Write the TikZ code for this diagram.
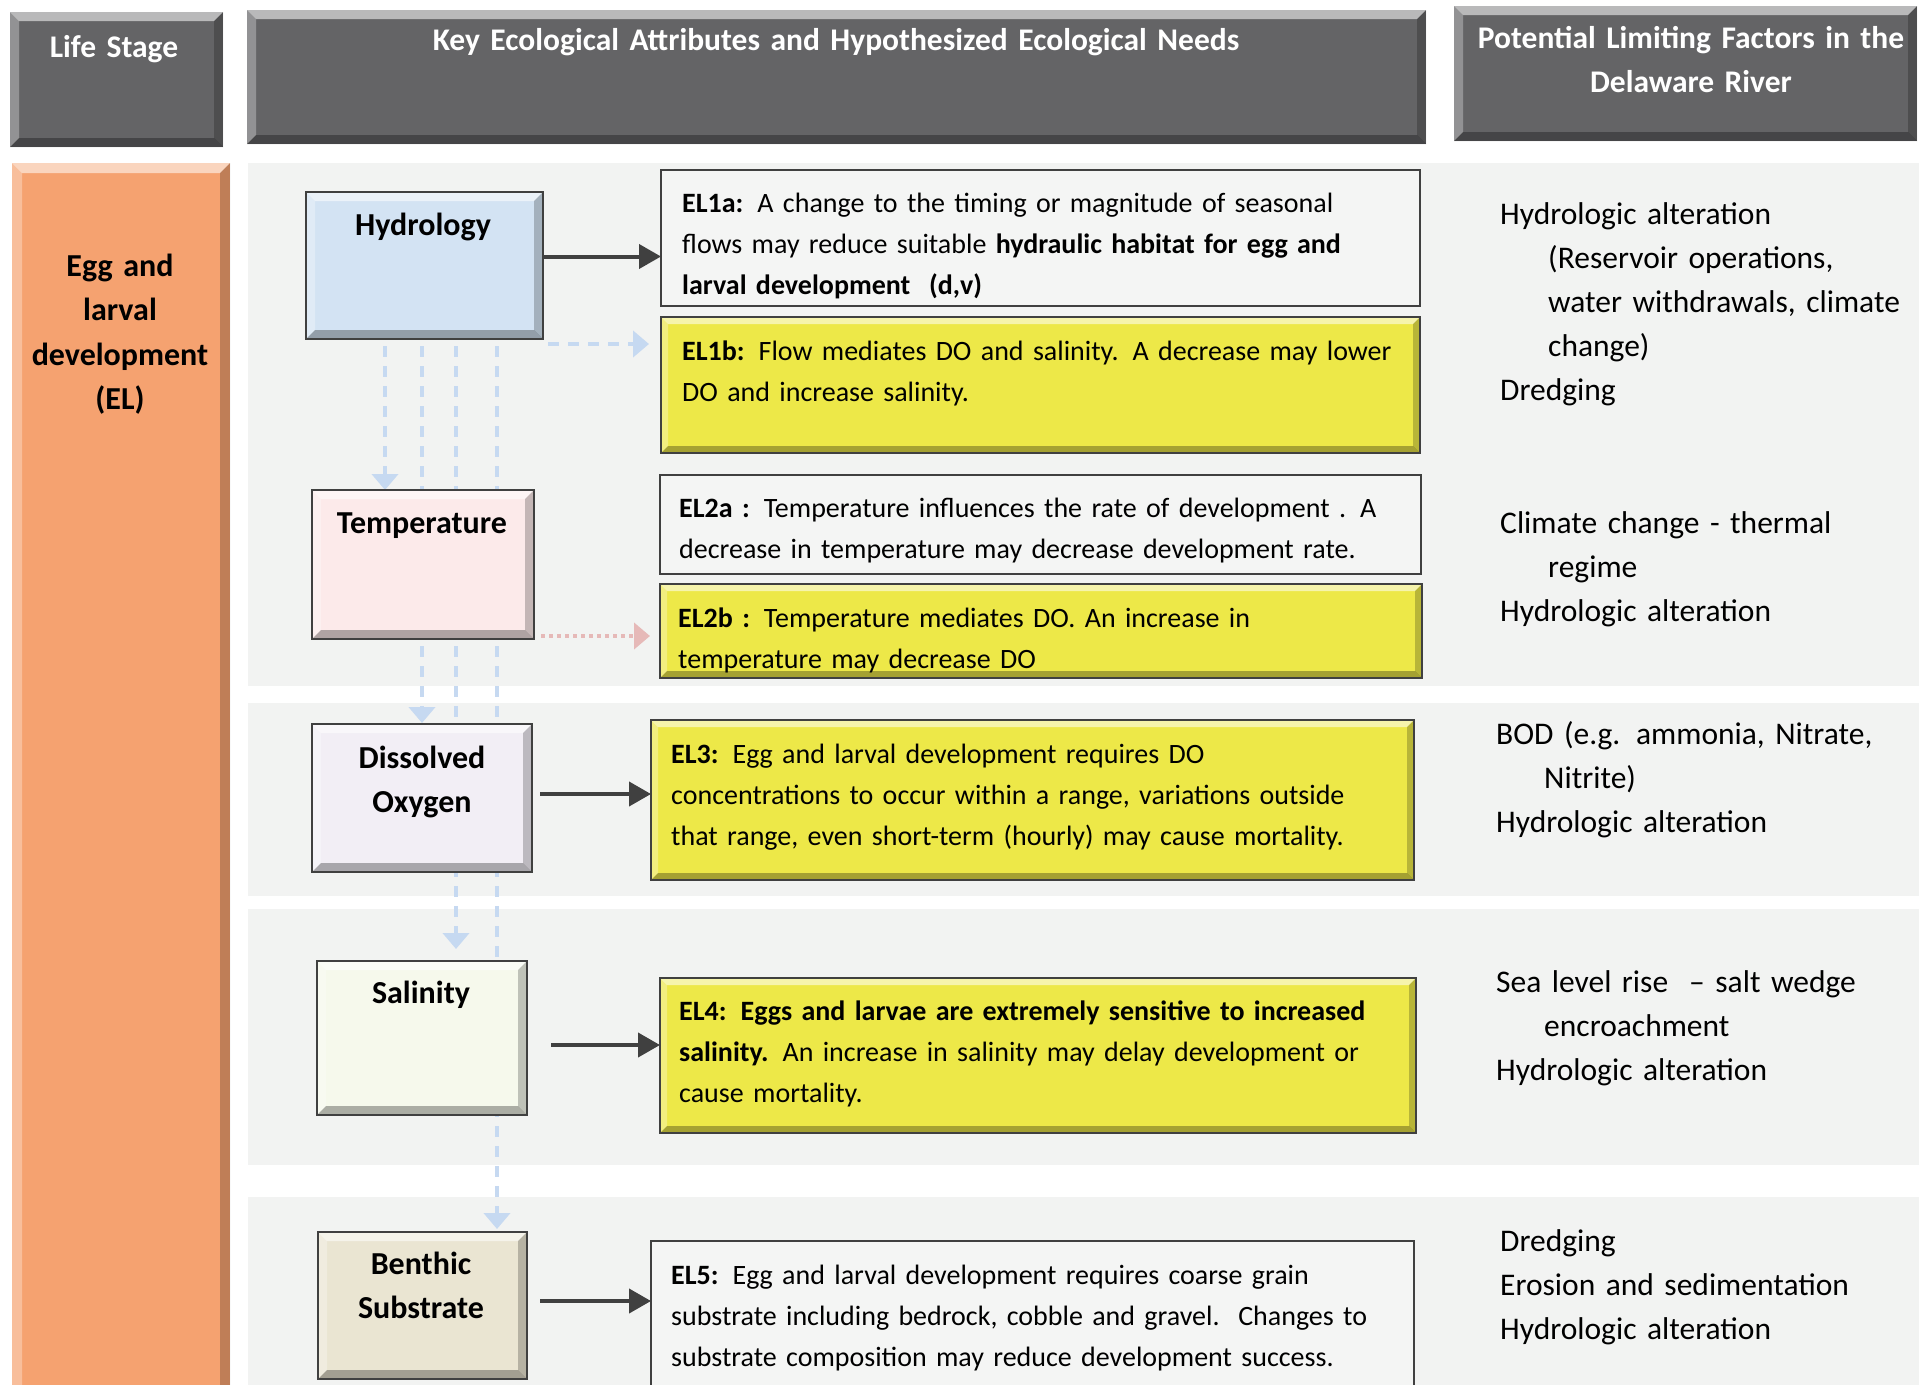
\documentclass[tikz,border=0pt]{standalone}
\usepackage{fontspec}
\setmainfont{Carlito}
\usetikzlibrary{arrows.meta}
\definecolor{hdrc}{RGB}{100,100,102}
\definecolor{orangec}{RGB}{245,162,112}
\definecolor{bandc}{RGB}{242,243,242}
\definecolor{hydc}{RGB}{211,227,243}
\definecolor{tempc}{RGB}{252,234,234}
\definecolor{doc}{RGB}{242,238,245}
\definecolor{salc}{RGB}{246,249,236}
\definecolor{benc}{RGB}{234,229,210}
\definecolor{yelc}{RGB}{237,232,72}
\definecolor{plainc}{RGB}{244,245,244}
\definecolor{bordc}{RGB}{64,64,64}
\definecolor{arrc}{RGB}{64,64,64}
\definecolor{bluec}{RGB}{198,217,241}
\definecolor{pinkc}{RGB}{230,185,184}
\begin{document}
\begin{tikzpicture}[x=1pt,y=-1pt,
  bevel/.style={path picture={
    \fill[white,opacity=0.55] (path picture bounding box.north west) -- (path picture bounding box.north east) -- ([xshift=-#1,yshift=-#1]path picture bounding box.north east) -- ([xshift=#1,yshift=-#1]path picture bounding box.north west) -- cycle;
    \fill[white,opacity=0.3] (path picture bounding box.north west) -- ([xshift=#1,yshift=-#1]path picture bounding box.north west) -- ([xshift=#1,yshift=#1]path picture bounding box.south west) -- (path picture bounding box.south west) -- cycle;
    \fill[black,opacity=0.3] (path picture bounding box.south west) -- (path picture bounding box.south east) -- ([xshift=-#1,yshift=#1]path picture bounding box.south east) -- ([xshift=#1,yshift=#1]path picture bounding box.south west) -- cycle;
    \fill[black,opacity=0.22] (path picture bounding box.north east) -- (path picture bounding box.south east) -- ([xshift=-#1,yshift=#1]path picture bounding box.south east) -- ([xshift=-#1,yshift=-#1]path picture bounding box.north east) -- cycle;
  }},
  bevel/.default=9pt,
  box/.style={draw=bordc, line width=2.5pt, inner sep=0pt, outer sep=0pt, anchor=north west},
  hdrbox/.style={fill=hdrc, inner sep=0pt, outer sep=0pt, anchor=north west, bevel},
  mtext/.style={font=\fontsize{28pt}{41pt}\selectfont, text width=745pt, align=left, inner sep=0pt, anchor=base west},
  rtext/.style={font=\fontsize{31.5pt}{44pt}\selectfont, text width=420pt, align=left, inner sep=0pt, anchor=base west},
  ltext/.style={font=\fontsize{32pt}{44pt}\selectfont\bfseries, text width=230pt, align=center, inner sep=0pt, anchor=base},
  htext/.style={font=\fontsize{31.5pt}{44pt}\selectfont\bfseries, text=white, align=center, inner sep=0pt, anchor=base},
  solidarr/.style={draw=arrc, line width=4pt, -{Triangle[length=22pt,width=24pt]}},
  bluearr/.style={draw=bluec, line width=4pt, dash pattern=on 11pt off 9pt, -{Triangle[length=16pt,width=26pt]}},
  pinkarr/.style={draw=pinkc, line width=4pt, dash pattern=on 4pt off 4pt, -{Triangle[length=16pt,width=26pt]}}
]
\useasboundingbox (0,0) rectangle (1919,1384);
\fill[white] (0,0) rectangle (1919,1384);

% bands
\fill[bandc] (248,163) rectangle (1919,686);
\fill[bandc] (248,703) rectangle (1919,896);
\fill[bandc] (248,909) rectangle (1919,1165);
\fill[bandc] (248,1197) rectangle (1919,1400);

% header boxes
\node[hdrbox, minimum width=213pt, minimum height=135pt] (lifehdr) at (10,12) {};
\node[hdrbox, minimum width=1179pt, minimum height=134pt] (keyhdr) at (247,10) {};
\node[hdrbox, minimum width=463pt, minimum height=135pt] (pothdr) at (1454,6) {};
\node[htext, text width=200pt] (lifet) at (114,57) {Life Stage};
\node[htext, text width=1100pt] (keyt) at (836,50) {Key Ecological Attributes and Hypothesized Ecological Needs};
\node[htext, text width=460pt] (pott) at (1691,48) {Potential Limiting Factors in the\\Delaware River};

% life stage column
\node[fill=orangec, inner sep=0pt, outer sep=0pt, anchor=north west, minimum width=218pt, minimum height=1237pt, bevel=10pt] (egg) at (12,163) {};
\node[ltext, font=\fontsize{32pt}{44.5pt}\selectfont\bfseries] (eggt) at (120,276) {Egg and\\larval\\development\\(EL)};

% coordinates for vertical connectors
\coordinate (v1) at (385,0);
\coordinate (v2) at (422,0);
\coordinate (v3) at (456,0);
\coordinate (v4) at (497,0);

\path (306,192) coordinate (phyd) (312,490) coordinate (ptemp) (312,724) coordinate (pdo)
      (317,961) coordinate (psal) (318,1232) coordinate (pben);

% invisible placeholders to route the vertical connectors
\node[inner sep=0pt, outer sep=0pt, anchor=north west, minimum width=237pt, minimum height=147pt] (hyd) at (phyd) {};
\node[inner sep=0pt, outer sep=0pt, anchor=north west, minimum width=222pt, minimum height=149pt] (temp) at (ptemp) {};
\node[inner sep=0pt, outer sep=0pt, anchor=north west, minimum width=220pt, minimum height=148pt] (do) at (pdo) {};
\node[inner sep=0pt, outer sep=0pt, anchor=north west, minimum width=210pt, minimum height=154pt] (sal) at (psal) {};
\node[inner sep=0pt, outer sep=0pt, anchor=north west, minimum width=209pt, minimum height=147pt] (ben) at (pben) {};

\draw[bluearr, shorten <=7pt] (hyd.south -| v1) -- (temp.north -| v1);
\draw[bluearr, shorten <=7pt, shorten >=1pt] (hyd.south -| v2) -- (do.north -| v2);
\draw[bluearr, shorten <=7pt, shorten >=12pt] (hyd.south -| v3) -- (sal.north -| v3);
\draw[bluearr, shorten <=7pt, shorten >=3pt] (hyd.south -| v4) -- (ben.north -| v4);

% visible attribute boxes
\node[box, fill=hydc, bevel, minimum width=237pt, minimum height=147pt] (hydb) at (phyd) {};
\node[box, fill=tempc, bevel, minimum width=222pt, minimum height=149pt] (tempb) at (ptemp) {};
\node[box, fill=doc, bevel, minimum width=220pt, minimum height=148pt] (dob) at (pdo) {};
\node[box, fill=salc, bevel, minimum width=210pt, minimum height=154pt] (salb) at (psal) {};
\node[box, fill=benc, bevel, minimum width=209pt, minimum height=147pt] (benb) at (pben) {};

\node[ltext] (hydt) at (423,235) {Hydrology};
\node[ltext] (tempt) at (422,533) {Temperature};
\node[ltext] (dot) at (422,768) {Dissolved\\Oxygen};
\node[ltext] (salt) at (421,1003) {Salinity};
\node[ltext] (bent) at (421,1274) {Benthic\\Substrate};

% ecological need boxes
\node[box, fill=plainc, minimum width=759pt, minimum height=136pt] (el1a) at (661,170) {};
\node[box, fill=yelc, bevel=7pt, minimum width=759pt, minimum height=136pt] (el1b) at (661,317) {};
\node[box, fill=plainc, minimum width=761pt, minimum height=99pt] (el2a) at (660,475) {};
\node[box, fill=yelc, bevel=7pt, minimum width=762pt, minimum height=94pt] (el2b) at (660,584) {};
\node[box, fill=yelc, bevel=7pt, minimum width=763pt, minimum height=160pt] (el3) at (651,720) {};
\node[box, fill=yelc, bevel=7pt, minimum width=756pt, minimum height=155pt] (el4) at (660,978) {};
\node[box, fill=plainc, minimum width=763pt, minimum height=180pt] (el5) at (651,1241) {};

\node[mtext] (t1a) at (682,212) {\textbf{EL1a:} A change to the timing or magnitude of seasonal\\flows may reduce suitable \textbf{hydraulic habitat for egg and}\\\textbf{larval development\ \ (d,v)}};
\node[mtext] (t1b) at (682,360) {\textbf{EL1b:} Flow mediates DO and salinity. A decrease may lower\\DO and increase salinity.};
\node[mtext] (t2a) at (679,517) {\textbf{EL2a :} Temperature influences the rate of development . A\\decrease in temperature may decrease development rate.};
\node[mtext] (t2b) at (678,627) {\textbf{EL2b :} Temperature mediates DO. An increase in\\temperature may decrease DO};
\node[mtext] (t3) at (671,763) {\textbf{EL3:} Egg and larval development requires DO\\concentrations to occur within a range, variations outside\\that range, even short-term (hourly) may cause mortality.};
\node[mtext] (t4) at (679,1020) {\textbf{EL4: Eggs and larvae are extremely sensitive to increased}\\\textbf{salinity.} An increase in salinity may delay development or\\cause mortality.};
\node[mtext] (t5) at (671,1284) {\textbf{EL5:} Egg and larval development requires coarse grain\\substrate including bedrock, cobble and gravel.\ \ Changes to\\substrate composition may reduce development success.};

% connectors
\path ([yshift=9pt]hydb.east) coordinate (a1);
\draw[solidarr] (a1) -- (a1 -| el1a.west);
\path ([xshift=5pt,yshift=-5pt]hydb.south east) coordinate (a2);
\draw[bluearr, shorten >=12pt] (a2) -- (a2 -| el1b.west);
\path ([yshift=3pt]tempb.south east) coordinate (a3);
\draw[pinkarr, shorten <=7pt, shorten >=10pt] (a3) -- (a3 -| el2b.west);
\path ([yshift=4pt]dob.east) coordinate (a4);
\draw[solidarr, shorten <=8pt] (a4) -- (a4 -| el3.west);
\path ([yshift=-7pt]salb.east) coordinate (a5);
\draw[solidarr, shorten <=24pt] (a5) -- (a5 -| el4.west);
\path ([yshift=4.5pt]benb.east) coordinate (a6);
\draw[solidarr, shorten <=13pt] (a6) -- (a6 -| el5.west);

% limiting factors
\node[rtext] (r1) at (1500,224) {Hydrologic alteration\\\hspace*{48pt}(Reservoir operations,\\\hspace*{48pt}water withdrawals, climate\\\hspace*{48pt}change)\\Dredging};
\node[rtext] (r2) at (1500,533) {Climate change - thermal\\\hspace*{48pt}regime\\Hydrologic alteration};
\node[rtext] (r3) at (1496,744) {BOD (e.g. ammonia, Nitrate,\\\hspace*{48pt}Nitrite)\\Hydrologic alteration};
\node[rtext] (r4) at (1496,992) {Sea level rise\ \ -- salt wedge\\\hspace*{48pt}encroachment\\Hydrologic alteration};
\node[rtext] (r5) at (1500,1251) {Dredging\\Erosion and sedimentation\\Hydrologic alteration};
\end{tikzpicture}
\end{document}
